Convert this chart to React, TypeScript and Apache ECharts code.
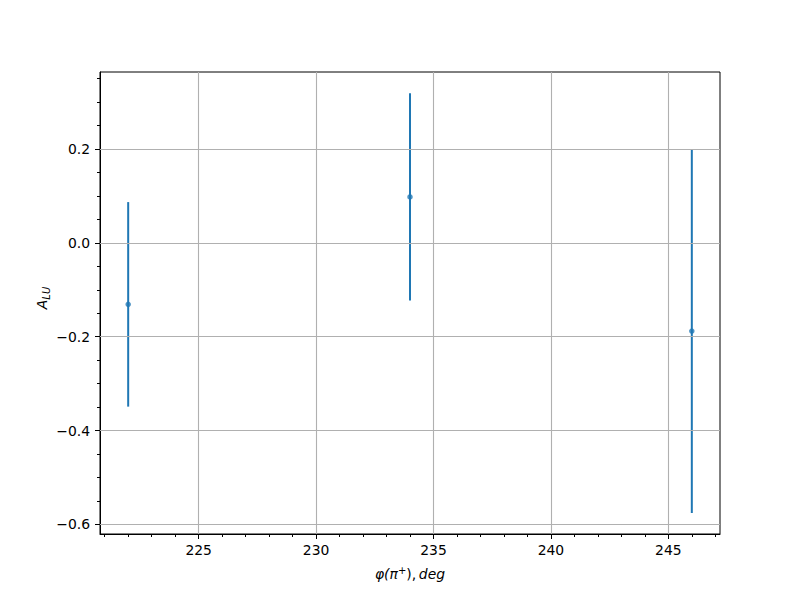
import React, { useEffect, useRef } from "react";
import * as echarts from "echarts";

const xValues = [222, 234, 246];
const yValues = [-0.131, 0.098, -0.188];
const yErrors = [0.218, 0.221, 0.388];

const xMajorTicks = [225, 230, 235, 240, 245];
const xMinorTicks = [221, 222, 223, 224, 226, 227, 228, 229, 231, 232, 233, 234, 236, 237, 238, 239, 241, 242, 243, 244, 246, 247];
const yMajorTicks = [-0.6, -0.4, -0.2, 0.0, 0.2];
const yMinorTicks = [-0.55, -0.5, -0.45, -0.35, -0.3, -0.25, -0.15, -0.1, -0.05, 0.05, 0.1, 0.15, 0.25, 0.3, 0.35];

const X_MIN = 220.8;
const X_MAX = 247.2;
const Y_MIN = -0.6205;
const Y_MAX = 0.3643;

const COLOR = "#1f77b4";
const FONT = "DejaVu Sans";

export default function App() {
  const ref = useRef<HTMLDivElement>(null);
  useEffect(() => {
    if (!ref.current) return;
    const chart = echarts.init(ref.current, null, { renderer: "svg" });
    const fmtY = (v: number) => {
      const s = Number(v).toFixed(1);
      return s.replace("-", "\u2212");
    };
    const errData = xValues.map((x, i) => [x, yValues[i] - yErrors[i], yValues[i] + yErrors[i]]);
    chart.setOption({
      animation: false,
      backgroundColor: "#ffffff",
      grid: {
        left: 100,
        right: 80,
        top: 72,
        bottom: 66,
        show: true,
        borderColor: "#000",
        borderWidth: 1,
        backgroundColor: "transparent",
      },
      xAxis: [
        {
          type: "value",
          min: X_MIN,
          max: X_MAX,
          position: "bottom",
          axisLine: { show: true, onZero: false, lineStyle: { color: "#000", width: 1 } },
          axisTick: { show: true, inside: false, length: 5, customValues: xMajorTicks, lineStyle: { color: "#000", width: 1 } },
          axisLabel: { show: true, customValues: xMajorTicks, margin: 9, color: "#000", fontFamily: FONT, fontSize: 13.9, formatter: (v: number) => String(v) },
          splitLine: { show: false },
        },
        {
          type: "value",
          min: X_MIN,
          max: X_MAX,
          position: "bottom",
          offset: 0,
          axisLine: { show: false, onZero: false },
          axisTick: { show: true, inside: false, length: 3, customValues: xMinorTicks, lineStyle: { color: "#000", width: 1 } },
          axisLabel: { show: false },
          splitLine: { show: false },
        },
      ],
      yAxis: [
        {
          type: "value",
          min: Y_MIN,
          max: Y_MAX,
          position: "left",
          axisLine: { show: true, onZero: false, lineStyle: { color: "#000", width: 1 } },
          axisTick: { show: true, inside: false, length: 5, customValues: yMajorTicks, lineStyle: { color: "#000", width: 1 } },
          axisLabel: { show: true, customValues: yMajorTicks, margin: 10, color: "#000", fontFamily: FONT, fontSize: 13.9, formatter: fmtY },
          splitLine: { show: false },
        },
        {
          type: "value",
          min: Y_MIN,
          max: Y_MAX,
          position: "left",
          offset: 0,
          axisLine: { show: false, onZero: false },
          axisTick: { show: true, inside: false, length: 3, customValues: yMinorTicks, lineStyle: { color: "#000", width: 1 } },
          axisLabel: { show: false },
          splitLine: { show: false },
        },
      ],
      series: [
        {
          type: "line",
          data: [],
          xAxisIndex: 0,
          yAxisIndex: 0,
          silent: true,
          z: 1,
          markLine: {
            silent: true,
            symbol: ["none", "none"],
            label: { show: false },
            lineStyle: { color: "#b0b0b0", width: 1.1, type: "solid" },
            animation: false,
            data: [
              ...xMajorTicks.map((v) => ({ xAxis: v })),
              ...yMajorTicks.map((v) => ({ yAxis: v })),
            ],
          },
        },
        {
          type: "custom",
          xAxisIndex: 0,
          yAxisIndex: 0,
          z: 3,
          data: errData,
          renderItem: (params: any, api: any) => {
            const x = api.value(0);
            const lo = api.coord([x, api.value(1)]);
            const hi = api.coord([x, api.value(2)]);
            return {
              type: "line",
              shape: { x1: lo[0], y1: lo[1], x2: hi[0], y2: hi[1] },
              style: { stroke: COLOR, lineWidth: 2 },
            };
          },
        },
        {
          type: "scatter",
          xAxisIndex: 0,
          yAxisIndex: 0,
          z: 4,
          symbol: "circle",
          symbolSize: 5.5,
          itemStyle: { color: COLOR },
          data: xValues.map((x, i) => [x, yValues[i]]),
        },
      ],
      graphic: [
        {
          type: "text",
          x: 410,
          y: 574,
          style: {
            text: "{i|\u03c6(\u03c0}{sup|+}{n|),\u2009}{i|deg}",
            align: "center",
            verticalAlign: "middle",
            fill: "#000",
            rich: {
              i: { fontFamily: FONT, fontStyle: "italic", fontSize: 13.9, fill: "#000" },
              n: { fontFamily: FONT, fontSize: 13.9, fill: "#000" },
              sup: { fontFamily: FONT, fontSize: 10, fill: "#000", padding: [0, 0, 8, 0] },
            },
          },
        },
        {
          type: "text",
          x: 42,
          y: 298,
          rotation: Math.PI / 2,
          style: {
            text: "{i|A}{sub|LU}",
            align: "center",
            verticalAlign: "middle",
            fill: "#000",
            rich: {
              i: { fontFamily: FONT, fontStyle: "italic", fontSize: 13.9, fill: "#000" },
              sub: { fontFamily: FONT, fontStyle: "italic", fontSize: 10, fill: "#000", padding: [8, 0, 0, 0] },
            },
          },
        },
      ],
    });
    return () => chart.dispose();
  }, []);
  return <div ref={ref} style={{ position: "fixed", left: 0, top: 0, width: 800, height: 600 }} />;
}
